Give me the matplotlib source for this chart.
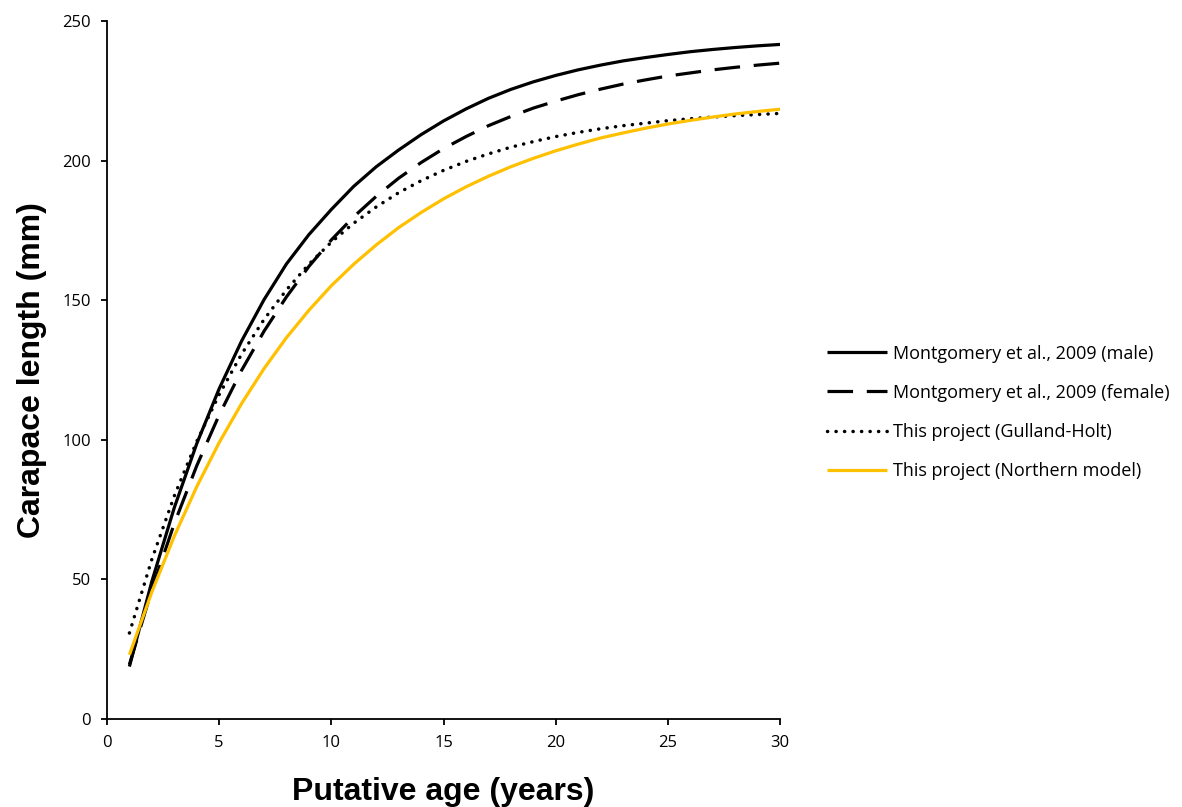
import numpy as np
import matplotlib.pyplot as plt

ages = list(range(1, 31))

# carapace length (mm) at each putative age
male_2009 = [18.8, 49.3, 75.7, 98.6, 118.3, 135.4, 150.2, 163.0, 173.5, 182.5,
             190.8, 197.8, 203.8, 209.3, 214.2, 218.5, 222.3, 225.5, 228.2, 230.5,
             232.5, 234.2, 235.7, 236.9, 238.0, 239.0, 239.8, 240.5, 241.1, 241.6]
female_2009 = [19.5, 46.4, 70.0, 90.7, 108.9, 124.9, 138.9, 151.2, 162.1, 171.6,
               179.9, 187.2, 193.7, 199.3, 204.3, 208.6, 212.5, 215.8, 218.8, 221.3,
               223.6, 225.6, 227.4, 228.9, 230.3, 231.4, 232.5, 233.4, 234.2, 234.9]
gulland_holt = [30.8, 57.2, 79.9, 99.4, 116.2, 130.7, 143.1, 153.7, 162.9, 170.8,
                177.6, 183.4, 188.5, 192.8, 196.5, 199.7, 202.4, 204.8, 206.8, 208.6,
                210.1, 211.4, 212.5, 213.4, 214.3, 215.0, 215.6, 216.1, 216.5, 216.9]
northern = [23.0, 45.5, 65.5, 83.2, 99.0, 113.0, 125.5, 136.6, 146.4, 155.2,
            162.9, 169.8, 176.0, 181.4, 186.3, 190.6, 194.4, 197.8, 200.8, 203.5,
            205.9, 208.1, 209.9, 211.6, 213.1, 214.4, 215.6, 216.7, 217.6, 218.4]

labels = ["Montgomery et al., 2009 (male)",
          "Montgomery et al., 2009 (female)",
          "This project (Gulland-Holt)",
          "This project (Northern model)"]

fig = plt.figure(figsize=(11.82, 8.07), dpi=100)
ax = fig.add_axes([0.0905, 0.109, 0.5695, 0.865])

lw = 2.3
ax.plot(ages, male_2009, color="black", lw=lw, label=labels[0],
        solid_capstyle="butt")
ax.plot(ages, female_2009, color="black", lw=lw, label=labels[1],
        linestyle=(0, (8, 4.3)), dash_capstyle="butt")
ax.plot(ages, gulland_holt, color="black", lw=2.5, label=labels[2],
        linestyle=(0, (0.05, 2.4)), dash_capstyle="round")
ax.plot(ages, northern, color="#FFC000", lw=lw, label=labels[3],
        solid_capstyle="butt")

ax.set_xlim(0, 30)
ax.set_ylim(0, 250)
ax.set_xticks(np.arange(0, 31, 5))
ax.set_yticks(np.arange(0, 251, 50))

for side in ["top", "right"]:
    ax.spines[side].set_visible(False)
for side in ["left", "bottom"]:
    ax.spines[side].set_linewidth(1.3)

ax.tick_params(direction="out", length=4.5, width=1.3, labelsize=12, pad=7)
for t in ax.get_xticklabels() + ax.get_yticklabels():
    t.set_fontfamily("Open Sans")

ax.set_xlabel("Putative age (years)", fontsize=23, fontweight="bold",
              family="Liberation Sans", labelpad=19)
ax.set_ylabel("Carapace length (mm)", fontsize=23, fontweight="bold",
              family="Liberation Sans", labelpad=11)

fig.legend(loc="center left", bbox_to_anchor=(0.6997, 0.489),
           frameon=False, borderpad=0, borderaxespad=0,
           handlelength=3.3, handletextpad=0.33, labelspacing=1.17,
           prop={"family": "Open Sans", "size": 13})

fig.savefig("out.png", dpi=100)
